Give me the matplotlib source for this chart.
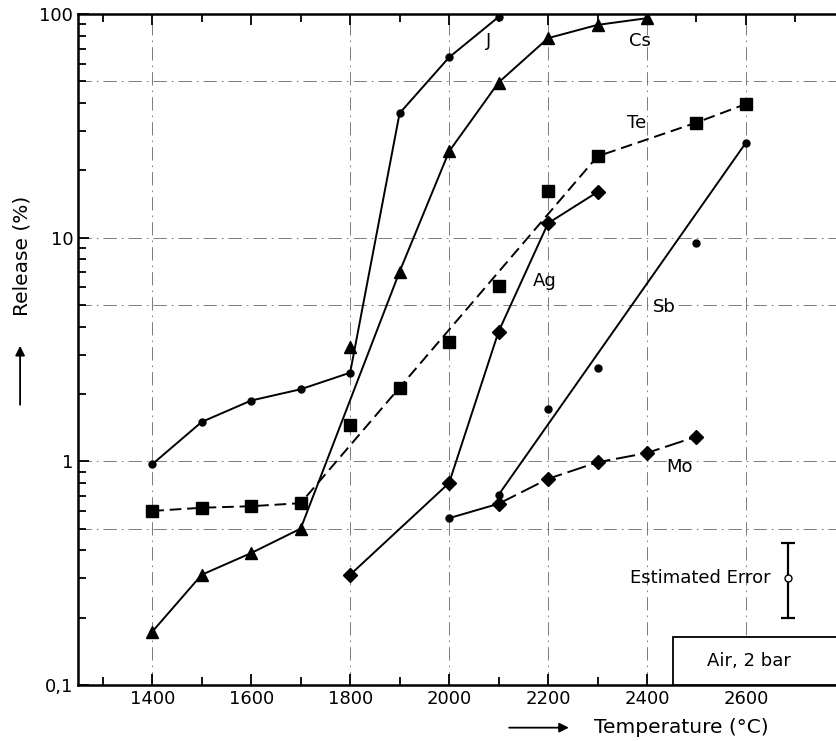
import matplotlib.pyplot as plt
from matplotlib.patches import Rectangle
from matplotlib.ticker import FixedLocator, FixedFormatter, NullFormatter

# release data (temperature in degC, release in %)
temps_j = [1400, 1500, 1600, 1700, 1800, 1900, 2000, 2100]
rel_j = [0.97, 1.50, 1.87, 2.10, 2.49, 36.0, 64.0, 97.0]

temps_cs = [1400, 1500, 1600, 1700, 1800, 1900, 2000, 2100, 2200, 2300, 2400]
rel_cs = [0.173, 0.311, 0.389, 0.50, 3.26, 7.05, 24.3, 49.4, 78.0, 89.4, 95.8]
cs_line_temps = [1400, 1500, 1600, 1700, 1900, 2000, 2100, 2200, 2300, 2400]

temps_te = [1400, 1500, 1600, 1700, 1800, 1900, 2000, 2100, 2200, 2300, 2500, 2600]
rel_te = [0.60, 0.62, 0.63, 0.65, 1.46, 2.12, 3.43, 6.11, 16.1, 23.1, 32.7, 39.6]
te_line_temps = [1400, 1500, 1600, 1700, 2300, 2500, 2600]

temps_ag = [1800, 2000, 2100, 2200, 2300]
rel_ag = [0.311, 0.80, 3.80, 11.6, 16.0]

temps_sb = [2000, 2100, 2200, 2300, 2500, 2600]
rel_sb = [0.557, 0.708, 1.71, 2.61, 9.51, 26.6]
sb_line_temps = [2100, 2600]

temps_mo = [2100, 2200, 2300, 2400, 2500]
rel_mo = [0.646, 0.835, 0.99, 1.09, 1.29]

err_temp = 2685
err_val = 0.30
err_low, err_high = 0.20, 0.43

grid_x = [1400, 1800, 2000, 2200, 2400, 2600]
grid_y = [0.5, 1, 5, 10, 50]


def pick(temps, vals, keep):
    pts = [(t, v) for t, v in zip(temps, vals) if t in keep]
    return [p[0] for p in pts], [p[1] for p in pts]


plt.rcParams['font.family'] = 'DejaVu Sans'
fig = plt.figure(figsize=(8.37, 7.41), dpi=100)
ax = fig.add_axes([0.0932, 0.0756, 0.9056, 0.9055])
ax.set_yscale('log')
ax.set_xlim(1250, 2782)
ax.set_ylim(0.1, 100)

gridstyle = dict(color='#666666', lw=0.6, ls=(0, (16, 6, 2, 6)), zorder=1)
for gx in grid_x:
    ax.axvline(gx, **gridstyle)
for gy in grid_y:
    ax.axhline(gy, **gridstyle)

k = 'black'
# J
ax.plot(temps_j, rel_j, '-', color=k, lw=1.4, marker='o', ms=5, zorder=3)
# Cs
x, y = pick(temps_cs, rel_cs, cs_line_temps)
ax.plot(x, y, '-', color=k, lw=1.4, zorder=3)
ax.plot(temps_cs, rel_cs, '^', color=k, ms=8, zorder=4)
# Te
x, y = pick(temps_te, rel_te, te_line_temps)
ax.plot(x, y, color=k, lw=1.4, ls=(0, (6, 3)), zorder=3)
ax.plot(temps_te, rel_te, 's', color=k, ms=8, zorder=4)
# Ag
ax.plot(temps_ag, rel_ag, '-', color=k, lw=1.4, marker='D', ms=7, zorder=3)
# Sb
x, y = pick(temps_sb, rel_sb, sb_line_temps)
ax.plot(x, y, '-', color=k, lw=1.4, zorder=3)
ax.plot(temps_sb, rel_sb, 'o', color=k, ms=5, zorder=4)
# Mo (joined to the first Sb point)
ax.plot([temps_sb[0], temps_mo[0]], [rel_sb[0], rel_mo[0]], '-', color=k, lw=1.4, zorder=3)
ax.plot(temps_mo, rel_mo, color=k, lw=1.4, ls=(0, (10, 3)), zorder=3)
ax.plot(temps_mo, rel_mo, 'D', color=k, ms=7, zorder=4)

# curve labels
fs = 13
ax.text(2080, 76, 'J', fontsize=fs, ha='center', va='center')
ax.text(2385, 76, 'Cs', fontsize=fs, ha='center', va='center')
ax.text(2380, 32.5, 'Te', fontsize=fs, ha='center', va='center')
ax.text(2194, 6.4, 'Ag', fontsize=fs, ha='center', va='center')
ax.text(2436, 4.9, 'Sb', fontsize=fs, ha='center', va='center')
ax.text(2465, 0.945, 'Mo', fontsize=fs, ha='center', va='center')

# estimated error
ax.errorbar([err_temp], [err_val],
            yerr=[[err_val - err_low], [err_high - err_val]],
            fmt='o', color=k, mfc='white', mec=k, ms=5, lw=1.6,
            capsize=5, capthick=1.6, zorder=5)
ax.text(err_temp - 35, err_val, 'Estimated Error', fontsize=fs,
        ha='right', va='center')

# conditions box
ax.add_patch(Rectangle((0.785, 0.0), 0.25, 0.0715, transform=ax.transAxes,
                       facecolor='white', edgecolor=k, lw=1.3, clip_on=False, zorder=6))
ax.text(0.885, 0.036, 'Air, 2 bar', transform=ax.transAxes, fontsize=fs,
        ha='center', va='center', zorder=7)

# axes & ticks
for s in ['left', 'bottom', 'top']:
    ax.spines[s].set_linewidth(1.8)
ax.spines['right'].set_visible(False)

ax.xaxis.set_major_locator(FixedLocator([1400, 1600, 1800, 2000, 2200, 2400, 2600]))
ax.xaxis.set_minor_locator(FixedLocator([1300, 1500, 1700, 1900, 2100, 2300, 2500, 2700]))
ax.yaxis.set_major_locator(FixedLocator([0.1, 1, 10, 100]))
ax.yaxis.set_major_formatter(FixedFormatter(['0,1', '1', '10', '100']))
ax.yaxis.set_minor_locator(FixedLocator([m * d for d in [0.1, 1, 10] for m in range(2, 10)]))
ax.yaxis.set_minor_formatter(NullFormatter())
ax.tick_params(which='both', direction='in', top=True, right=False, width=1.3, labelsize=fs)
ax.tick_params(which='major', length=8)
ax.tick_params(which='minor', length=6)

fig.text(0.026, 0.655, 'Release (%)', rotation=90, fontsize=14.5, ha='center', va='center')
ax.annotate('', xy=(0.024, 0.537), xytext=(0.024, 0.45), xycoords='figure fraction',
            arrowprops=dict(arrowstyle='-|>', color=k, lw=1.3, mutation_scale=14))
fig.text(0.814, 0.018, 'Temperature (°C)', fontsize=14.5, ha='center', va='center')
ax.annotate('', xy=(0.683, 0.018), xytext=(0.605, 0.018), xycoords='figure fraction',
            arrowprops=dict(arrowstyle='-|>', color=k, lw=1.3, mutation_scale=14))

fig.savefig('out.png', dpi=100)
